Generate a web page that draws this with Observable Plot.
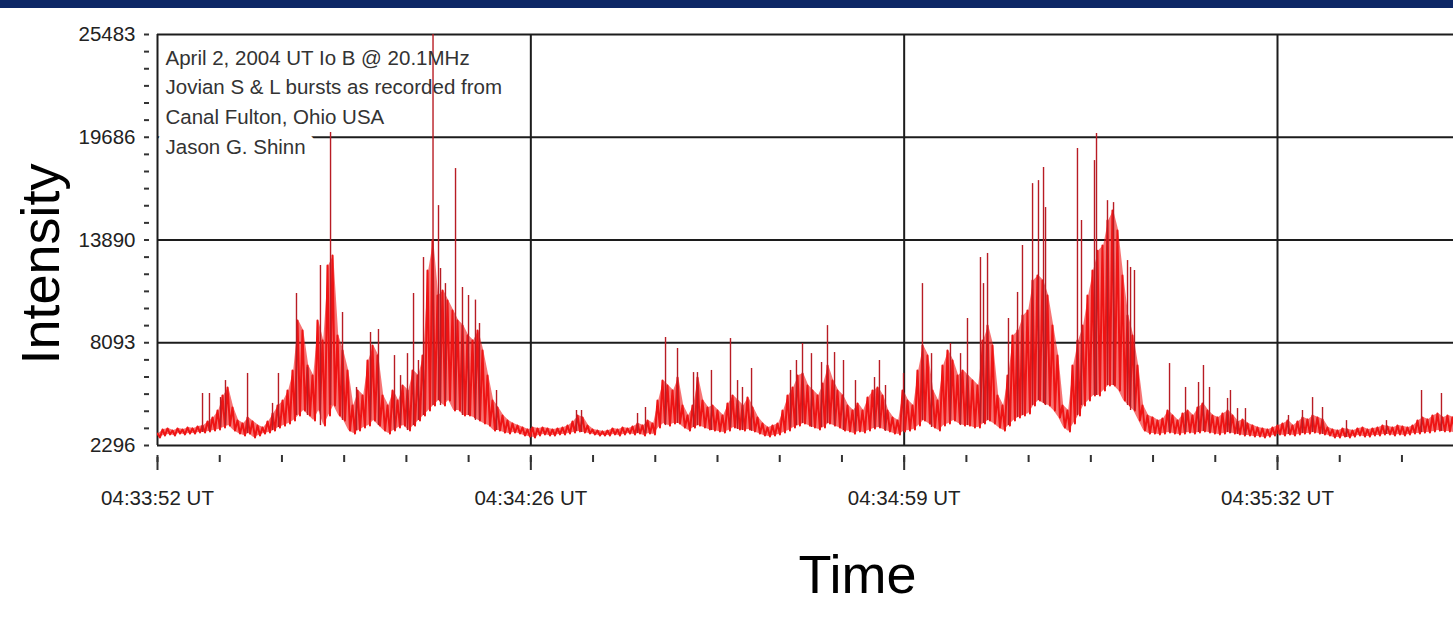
<!DOCTYPE html>
<html>
<head>
<meta charset="utf-8">
<script src="https://cdn.jsdelivr.net/npm/d3@7"></script>
<script src="https://cdn.jsdelivr.net/npm/@observablehq/plot@0.6"></script>
<style>
  html, body { margin: 0; padding: 0; background: #ffffff; }
  body { width: 1453px; overflow: hidden; font-family: "Liberation Sans", Arial, sans-serif; }
  #bar { height: 8px; background: #0d2766; }
</style>
</head>
<body>
<div id="bar"></div>
<div id="chart"></div>
<script>
// ---- axis ticks and labels ----
const yTicks = [2296, 8093, 13890, 19686, 25483];
const xTickSeconds = [0, 100 / 3, 200 / 3, 100];          // seconds after 04:33:52
const xTickLabels = ["04:33:52 UT", "04:34:26 UT", "04:34:59 UT", "04:35:32 UT"];
const annotationLines = [
  "April 2, 2004 UT Io B @ 20.1MHz",
  "Jovian S & L bursts as recorded from",
  "Canal Fulton, Ohio USA",
  "Jason G. Shinn"
];
const xLabel = "Time";
const yLabel = "Intensity";

// ---- signal: one sample pair every dt seconds (upper and lower excursion of the trace) ----
const dt = 0.4464;
const peaks = [
  2970,3200,3260,3140,3260,3200,3310,3260,3370,3420,
  3650,3880,4270,5120,5570,4440,3710,3540,3880,3650,
  3420,3310,3650,4100,4550,4830,5400,6530,9350,8780,
  6810,6240,9350,8220,12450,13010,8500,7650,6530,4550,
  5400,5120,7090,7940,7370,5120,4550,5400,4830,5680,
  5400,6530,6240,7370,12170,13860,10760,11040,10470,9910,
  9350,9060,8500,8220,8780,7650,6240,4830,4440,3990,
  3710,3540,3420,3310,3200,3310,3260,3310,3260,3200,
  3260,3310,3420,3650,3990,3880,3420,3200,3140,3090,
  3140,3260,3200,3310,3260,3370,3540,3420,3710,3540,
  4830,5960,5680,5400,6130,4550,3990,4550,6130,4830,
  4440,4550,4270,3990,4670,5120,4830,4550,5000,4440,
  3880,3540,3310,3420,3540,4270,5120,5570,6240,6360,
  5680,5400,5120,5790,6810,5960,5400,5120,4550,4270,
  4670,4270,5000,5400,5570,5120,4270,3880,3710,5400,
  4830,4550,6530,7940,7370,5400,4830,6810,7650,7090,
  6240,6530,6240,5960,5680,8220,9060,7940,5120,4550,
  6240,8500,8780,9630,9910,11600,11880,11600,10760,9060,
  7370,4550,4270,6810,8220,9060,10760,12170,13290,13580,
  14990,15550,14420,11880,9630,8500,6810,4550,3990,3880,
  3710,3820,4270,3990,3710,4100,4270,3990,4440,4670,
  4270,3990,3880,4100,4270,3990,3650,3760,3540,3420,
  3310,3260,3200,3310,3420,3540,3710,3420,3650,3880,
  3760,3990,3880,3760,3310,3200,3140,3260,3200,3140,
  3260,3310,3200,3260,3310,3420,3370,3310,3420,3370,
  3310,3420,3710,3880,3760,3990,4100,3880,3990,3880
];
const troughs = [
  2750,2860,2920,2860,2970,2920,2970,2970,3030,3030,
  3090,3140,3200,3310,3420,3140,2970,2860,2970,2750,
  2860,2970,3030,3140,3310,3420,3540,3710,3990,4270,
  3990,3710,4270,3420,3990,4550,3990,3710,3140,2970,
  3140,3310,3420,3710,3420,3140,2970,3140,3310,3420,
  3140,3420,3710,3990,4270,4550,4830,4550,4830,4270,
  4270,3990,3990,3880,3710,3540,3420,3140,3140,3030,
  2970,3030,2970,2860,2800,2750,2860,2920,2860,2860,
  2920,2920,2970,3030,3090,3030,2970,2920,2860,2860,
  2860,2920,2860,2920,2970,2920,2970,2860,2970,2920,
  3310,3540,3420,3540,3540,3310,3140,3310,3420,3310,
  3200,3140,3090,3030,3140,3310,3200,3140,3200,3090,
  2970,2860,2800,2860,2920,3030,3140,3310,3420,3540,
  3420,3310,3200,3310,3540,3420,3310,3140,3090,2970,
  3090,3030,3140,3260,3310,3200,3090,2970,2920,3090,
  3140,3200,3420,3710,3540,3310,3140,3420,3540,3710,
  3540,3420,3420,3310,3310,3540,3710,3540,3310,3140,
  3420,3710,3880,3990,4100,4550,4830,4670,4550,4270,
  3880,3310,3090,3540,3990,4550,4830,5120,5120,5400,
  5680,5680,5400,4830,4550,4270,3710,3140,2970,2970,
  2920,2970,3030,2970,2920,2970,3030,2970,3030,3090,
  3030,2970,2920,2970,3030,2970,2920,2860,2860,2800,
  2800,2750,2800,2860,2920,2860,2920,2860,2920,2970,
  2970,3030,2970,2920,2860,2750,2750,2800,2750,2800,
  2860,2800,2800,2860,2860,2920,2920,2860,2920,2860,
  2920,2970,2970,3030,3030,3090,3140,3090,3090,3030
];

// ---- isolated tall bursts (seconds after 04:33:52, intensity at tip) ----
const spikeTimes = [
  4.02,4.64,5.63,6.07,8.04,10.27,10.80,12.41,13.39,14.55,
  15.45,16.52,17.77,19.02,19.73,21.16,21.70,22.32,22.86,23.30,
  23.75,24.60,25.09,25.27,25.71,26.61,27.23,27.77,28.39,28.75,
  30.27,37.41,37.86,42.86,43.57,45.36,46.43,47.86,48.21,49.46,
  51.16,51.79,52.23,53.04,56.52,57.05,57.59,58.39,59.29,59.82,
  60.45,61.25,62.32,64.02,64.46,65.00,66.61,68.30,69.11,70.80,
  71.70,72.32,73.48,73.75,74.11,75.98,76.79,77.23,78.13,78.66,
  79.11,79.29,82.14,82.50,83.66,83.84,84.82,85.36,86.61,86.88,
  87.23,90.36,91.79,92.95,93.39,93.93,95.54,95.80,96.43,97.14,
  100.98,102.23,103.13,104.02,106.16,109.73,112.86,114.64
];
const spikeValues = [
  5230,5230,5000,5960,6360,4670,6360,10870,6700,12450,
  19950,9800,5570,8670,8840,7370,6240,7480,10870,7090,
  12900,25483,15830,12280,11430,17920,11210,10760,10500,9180,
  5400,4270,4270,4100,4440,8390,7770,6410,6410,6530,
  8330,5960,5570,6640,6530,7090,8050,7480,6980,9060,
  7540,7090,5960,6130,7090,5680,6360,11430,7480,8050,
  7480,9460,12900,11430,13130,9460,10930,13580,17070,17240,
  17980,15720,19050,14990,18370,19900,16110,16000,12730,12340,
  12170,6920,5570,5850,6810,5570,4950,5400,4380,4380,
  3990,4270,5000,4440,3700,3700,5400,5230
];

// ---- tables built from the arrays ----
const trace = [];
peaks.forEach((p, i) => {
  trace.push({t: i * dt, v: p});
  trace.push({t: i * dt + dt / 2, v: troughs[i]});
});
const band = peaks.map((p, i) => ({t: i * dt + dt / 4, hi: p, lo: troughs[i]}));
const spikes = spikeTimes.map((t, i) => ({
  t,
  v: spikeValues[i],
  base: troughs[Math.min(troughs.length - 1, Math.round(t / dt))]
}));

const yMinorTicks = d3.range(0, 25).map(k => yTicks[0] + k * (yTicks[4] - yTicks[0]) / 24);
const xMinorTicks = d3.range(0, 21).map(k => k * (100 / 3) / 6);

const font = "'Liberation Sans', Arial, sans-serif";
const annotationText = annotationLines.join("\n");

const chart = Plot.plot({
  width: 1453,
  height: 629,
  marginLeft: 157,
  marginRight: 0,
  marginTop: 26,
  marginBottom: 192,
  style: {fontFamily: font, fontSize: "20.5px", color: "#222", background: "#ffffff", overflow: "visible"},
  x: {domain: [0, 115.714], axis: null},
  y: {domain: [yTicks[0], yTicks[4]], axis: null},
  marks: [
    // horizontal grid / frame
    Plot.gridY(yTicks, {stroke: "#1c1c1c", strokeOpacity: 1, strokeWidth: 2}),
    // white knock-out behind the annotation so grid lines stop at it
    Plot.text([annotationText], {
      frameAnchor: "top-left", dx: 8, dy: 9.5, lineAnchor: "top", textAnchor: "start",
      lineHeight: 1.44, fontSize: 20.5, fill: "white", stroke: "white", strokeWidth: 22,
      strokeLinejoin: "round"
    }),
    // vertical grid / frame
    Plot.gridX(xTickSeconds, {stroke: "#1c1c1c", strokeOpacity: 1, strokeWidth: 2}),
    // signal: dense body + oscillating trace + isolated spikes
    Plot.areaY(band, {x: "t", y1: "lo", y2: "hi", fill: "#f01818", fillOpacity: 0.6, clip: true}),
    Plot.line(trace, {x: "t", y: "v", stroke: "#ee1414", strokeWidth: 2, clip: true}),
    Plot.ruleX(spikes, {x: "t", y1: "base", y2: "v", stroke: "#b81c24", strokeWidth: 1.4, clip: true}),
    // annotation
    Plot.text([annotationText], {
      frameAnchor: "top-left", dx: 8, dy: 9.5, lineAnchor: "top", textAnchor: "start",
      lineHeight: 1.44, fontSize: 20.5, fill: "#333333"
    }),
    // y axis: labels + minor dashes
    Plot.axisY(yTicks, {tickSize: 0, tickPadding: 22, stroke: "none", fill: "#222",
      tickFormat: d => String(d), fontSize: 20.5, label: null}),
    Plot.axisY(yMinorTicks, {tickSize: 5, dx: -8, fill: "none", stroke: "#333", strokeWidth: 2, label: null}),
    // x axis: major ticks, minor ticks, labels
    Plot.axisX(xTickSeconds, {tickSize: 13, dy: 12, fill: "none", stroke: "#333", strokeWidth: 2, label: null}),
    Plot.axisX(xMinorTicks, {tickSize: 7, dy: 10, fill: "none", stroke: "#333", strokeWidth: 2, label: null}),
    Plot.axisX(xTickSeconds, {tickSize: 0, tickPadding: 45, stroke: "none", fill: "#222",
      tickFormat: d => xTickLabels[xTickSeconds.indexOf(d)], fontSize: 20.5, label: null}),
    // axis titles
    Plot.text([yLabel], {frameAnchor: "left", rotate: -90, dx: -116, dy: 24, lineAnchor: "middle",
      textAnchor: "middle", fontSize: 54, fill: "#000"}),
    Plot.text([xLabel], {frameAnchor: "bottom", dx: 52, dy: 147, lineAnchor: "bottom",
      textAnchor: "middle", fontSize: 54, fill: "#000"})
  ]
});
document.getElementById("chart").appendChild(chart);
</script>
</body>
</html>
